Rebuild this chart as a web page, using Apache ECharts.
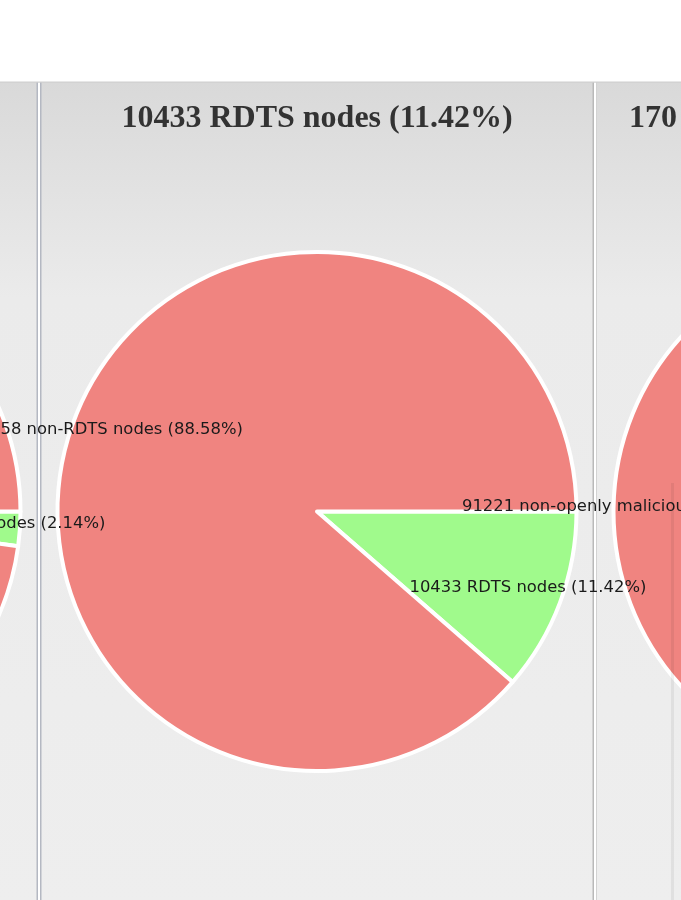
<!DOCTYPE html>
<html>
<head>
<meta charset="utf-8">
<script src="https://cdn.jsdelivr.net/npm/echarts@6/dist/echarts.min.js"></script>
<style>
html,body{margin:0;padding:0;background:#ffffff;}
#chart{width:681px;height:900px;}
</style>
</head>
<body>
<div id="chart"></div>
<script>
// ---- data ----
const positiveNames = ['malicious nodes', 'RDTS nodes', 'openly malicious nodes'];
const negativeNames = ['non-malicious nodes', 'non-RDTS nodes', 'non-openly malicious nodes'];
const positiveCounts = [1956, 10433, 170];
const negativeCounts = [89435, 80958, 91221];

// ---- layout (pixels) ----
const centersX = [-239, 317, 873];
const centerY = 511.5;
const R = 259.5;
const labelInner = [175, 185, 189];
const posColor = '#a0fa8c';
const negColor = '#f08480';

const chart = echarts.init(document.getElementById('chart'), null, {renderer: 'canvas'});

function pct(a, b) { return (a / (a + b) * 100).toFixed(2); }

const series = [];
const graphics = [];

// panel backgrounds
const bgGrad = {type: 'linear', x: 0, y: 0, x2: 0, y2: 1, colorStops: [
  {offset: 0, color: '#d9d9d9'}, {offset: 0.26, color: '#ebebeb'}, {offset: 1, color: '#eeeeee'}]};
[[-10, 47], [40, 553], [596, 100]].forEach(function (p) {
  graphics.push({type: 'rect', z: 0, silent: true, shape: {x: p[0], y: 82, width: p[1], height: 830},
    style: {fill: bgGrad}});
});
graphics.push({type: 'rect', z: 1, silent: true, shape: {x: 36.5, y: 82, width: 1.5, height: 830}, style: {fill: '#b4b8c2'}});
graphics.push({type: 'rect', z: 1, silent: true, shape: {x: 40, y: 82, width: 1.5, height: 830}, style: {fill: '#b4b8c2'}});
graphics.push({type: 'rect', z: 1, silent: true, shape: {x: 592.5, y: 82, width: 1.5, height: 830}, style: {fill: '#b9b9b9'}});
graphics.push({type: 'rect', z: 1, silent: true, shape: {x: 596, y: 82, width: 1, height: 830}, style: {fill: '#d2d2d2'}});
graphics.push({type: 'rect', z: 1, silent: true, shape: {x: 0, y: 81.5, width: 681, height: 1.2}, style: {fill: '#cfcfcf'}});
graphics.push({type: 'rect', z: 100, silent: true, shape: {x: 671, y: 483, width: 3, height: 420}, style: {fill: 'rgba(0,0,0,0.06)'}});

for (let i = 0; i < 3; i++) {
  const data = [
    {name: positiveNames[i], value: positiveCounts[i], itemStyle: {color: posColor}},
    {name: negativeNames[i], value: negativeCounts[i], itemStyle: {color: negColor}}
  ];
  series.push({
    type: 'pie', z: 2, silent: true, animation: false,
    center: [centersX[i], centerY], radius: [0, R],
    startAngle: 0, clockwise: true,
    itemStyle: {borderColor: '#ffffff', borderWidth: 4},
    label: {show: false}, labelLine: {show: false},
    data: data
  });
  series.push({
    type: 'pie', z: 5, silent: true, animation: false,
    center: [centersX[i], centerY], radius: [labelInner[i], R],
    startAngle: 0, clockwise: true, avoidLabelOverlap: false,
    itemStyle: {color: 'rgba(0,0,0,0)', borderWidth: 0},
    label: {show: true, position: 'inside', fontFamily: 'DejaVu Sans', fontSize: 16.4, color: '#1a1a1a',
      offset: [0, -3],
      formatter: function (p) { return p.value + ' ' + p.name + ' (' + p.percent.toFixed(2) + '%)'; }},
    labelLine: {show: false},
    data: data.map(function (d) { return {name: d.name, value: d.value}; })
  });
  graphics.push({
    type: 'text', z: 10, silent: true, x: centersX[i], y: 119,
    style: {
      text: positiveCounts[i] + ' ' + positiveNames[i] + ' (' + pct(positiveCounts[i], negativeCounts[i]) + '%)',
      fontFamily: 'Liberation Serif', fontWeight: 'bold', fontSize: 32, fill: '#333333',
      align: 'center', verticalAlign: 'middle'
    }
  });
}

chart.setOption({
  backgroundColor: '#ffffff',
  animation: false,
  graphic: graphics,
  series: series
});
</script>
</body>
</html>
